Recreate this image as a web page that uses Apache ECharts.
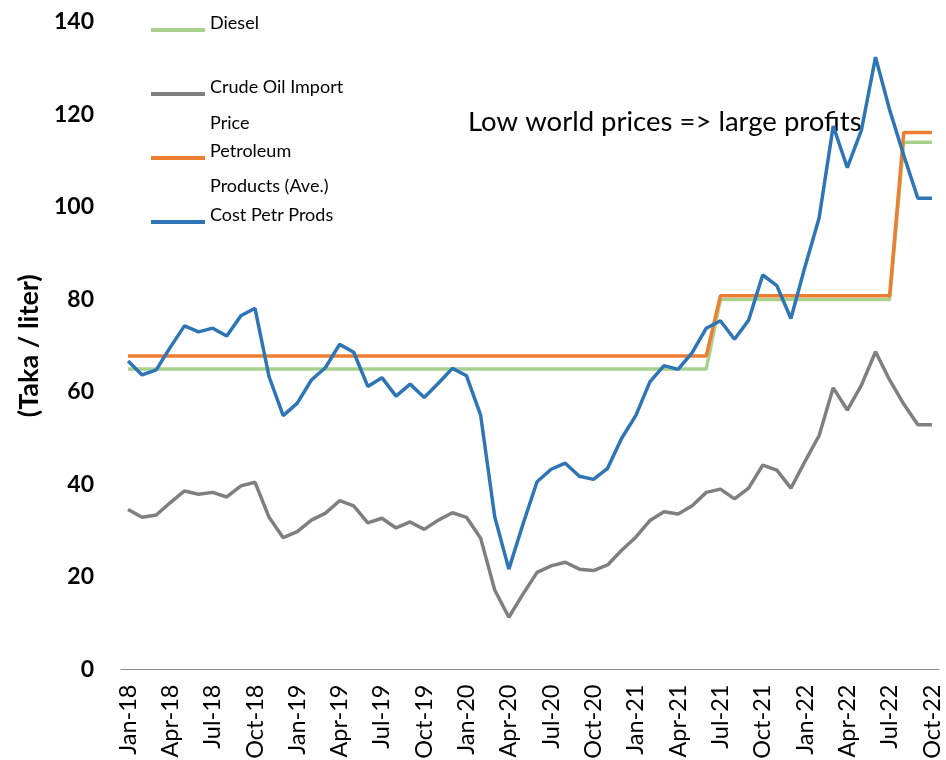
<!DOCTYPE html>
<html>
<head>
<meta charset="utf-8">
<script src="https://cdn.jsdelivr.net/npm/echarts@6/dist/echarts.min.js"></script>
<style>html,body{margin:0;padding:0;background:#fff;}#c{width:946px;height:760px;}</style>
</head>
<body>
<div id="c"></div>
<script>
var categories = [
  'Jan-18','Feb-18','Mar-18','Apr-18','May-18','Jun-18','Jul-18','Aug-18','Sep-18','Oct-18','Nov-18','Dec-18',
  'Jan-19','Feb-19','Mar-19','Apr-19','May-19','Jun-19','Jul-19','Aug-19','Sep-19','Oct-19','Nov-19','Dec-19',
  'Jan-20','Feb-20','Mar-20','Apr-20','May-20','Jun-20','Jul-20','Aug-20','Sep-20','Oct-20','Nov-20','Dec-20',
  'Jan-21','Feb-21','Mar-21','Apr-21','May-21','Jun-21','Jul-21','Aug-21','Sep-21','Oct-21','Nov-21','Dec-21',
  'Jan-22','Feb-22','Mar-22','Apr-22','May-22','Jun-22','Jul-22','Aug-22','Sep-22','Oct-22'
];
var diesel = [
  65,65,65,65,65,65,65,65,65,65,65,65,
  65,65,65,65,65,65,65,65,65,65,65,65,
  65,65,65,65,65,65,65,65,65,65,65,65,
  65,65,65,65,65,65,80,80,80,80,80,80,
  80,80,80,80,80,80,80,114,114,114
];
var crudeOil = [
  34.6,32.9,33.4,36.1,38.6,37.9,38.3,37.3,39.7,40.5,32.9,28.5,
  29.8,32.3,33.8,36.5,35.4,31.7,32.7,30.6,31.9,30.3,32.3,33.9,
  32.9,28.4,17.2,11.3,16.3,21.0,22.4,23.2,21.7,21.4,22.6,25.8,
  28.6,32.2,34.1,33.6,35.4,38.3,39.0,36.9,39.2,44.2,43.1,39.2,
  45.0,50.6,60.9,56.1,61.5,68.7,62.6,57.4,52.9,52.9
];
var petroleum = [
  67.8,67.8,67.8,67.8,67.8,67.8,67.8,67.8,67.8,67.8,67.8,67.8,
  67.8,67.8,67.8,67.8,67.8,67.8,67.8,67.8,67.8,67.8,67.8,67.8,
  67.8,67.8,67.8,67.8,67.8,67.8,67.8,67.8,67.8,67.8,67.8,67.8,
  67.8,67.8,67.8,67.8,67.8,67.8,80.8,80.8,80.8,80.8,80.8,80.8,
  80.8,80.8,80.8,80.8,80.8,80.8,80.8,116.1,116.1,116.1
];
var costPetr = [
  66.7,63.7,64.8,69.7,74.3,73.0,73.8,72.1,76.5,78.1,63.3,54.9,
  57.6,62.6,65.3,70.3,68.6,61.2,63.1,59.1,61.7,58.8,61.9,65.1,
  63.5,55.0,33.0,21.7,31.4,40.6,43.3,44.6,41.8,41.1,43.5,50.0,
  54.9,62.2,65.7,64.9,68.5,73.8,75.4,71.4,75.5,85.3,83.0,75.9,
  87.1,97.6,117.5,108.5,116.6,132.4,121.0,111.2,101.9,101.9
];
var seriesNames = ['Diesel','Crude Oil Import Price','Petroleum Products (Ave.)','Cost Petr Prods'];
var legendFirstLines = {'Diesel':'Diesel','Crude Oil Import Price':'Crude Oil Import','Petroleum Products (Ave.)':'Petroleum','Cost Petr Prods':'Cost Petr Prods'};
var yTicks = {min:0, max:140, interval:20};
var annotation = 'Low world prices => large profits';
var yTitle = '(Taka / liter)';

var FONT = 'Lato';
var chart = echarts.init(document.getElementById('c'), null, {renderer:'canvas'});
function lineSeries(name, data, color, z){
  return {name:name, type:'line', data:data, symbol:'none', showSymbol:false, z:z,
    lineStyle:{color:color, width:3.5}, itemStyle:{color:color}, animation:false};
}
chart.setOption({
  animation:false,
  backgroundColor:'#fff',
  grid:{left:121, right:7, top:22, bottom:90.5, containLabel:false, outerBoundsMode:'none'},
  legend:{
    orient:'vertical', left:146, top:8, itemGap:44,
    icon:'path://M0,0L54,0L54,0.01Z M0,14L54,14L54,18L0,18Z', itemWidth:54, itemHeight:18,
    itemStyle:{borderWidth:0}, lineStyle:{width:0},
    data:seriesNames,
    formatter:function(n){return legendFirstLines[n];},
    textStyle:{fontFamily:FONT, fontSize:18, color:'#000', lineHeight:20}
  },
  xAxis:{
    type:'category', data:categories, boundaryGap:true,
    axisLine:{show:true, lineStyle:{color:'#8c8c8c', width:1}},
    axisTick:{show:false},
    axisLabel:{interval:2, rotate:90, margin:15, fontFamily:FONT, fontSize:23.5, color:'#000'},
    splitLine:{show:false}
  },
  yAxis:{
    type:'value', min:yTicks.min, max:yTicks.max, interval:yTicks.interval,
    name:yTitle, nameLocation:'middle', nameRotate:90, nameGap:76,
    nameTextStyle:{fontFamily:FONT, fontSize:27, fontWeight:'bold', color:'#000'},
    axisLine:{show:false}, axisTick:{show:false}, splitLine:{show:false},
    axisLabel:{margin:27, fontFamily:FONT, fontSize:23, fontWeight:'bold', color:'#000'}
  },
  graphic:[
    {type:'text', left:210, top:114, style:{text:'Price', font:'18px Lato', fill:'#000'}},
    {type:'text', left:210, top:177, style:{text:'Products (Ave.)', font:'18px Lato', fill:'#000'}},
    {type:'text', left:468, top:108, style:{text:annotation, font:'27.5px Lato', fill:'#000'}}
  ],
  series:[
    lineSeries(seriesNames[0], diesel, '#A9D18E', 2),
    lineSeries(seriesNames[1], crudeOil, '#7F7F7F', 3),
    lineSeries(seriesNames[2], petroleum, '#ED7D31', 4),
    lineSeries(seriesNames[3], costPetr, '#2E75B6', 5)
  ]
});
</script>
</body>
</html>
